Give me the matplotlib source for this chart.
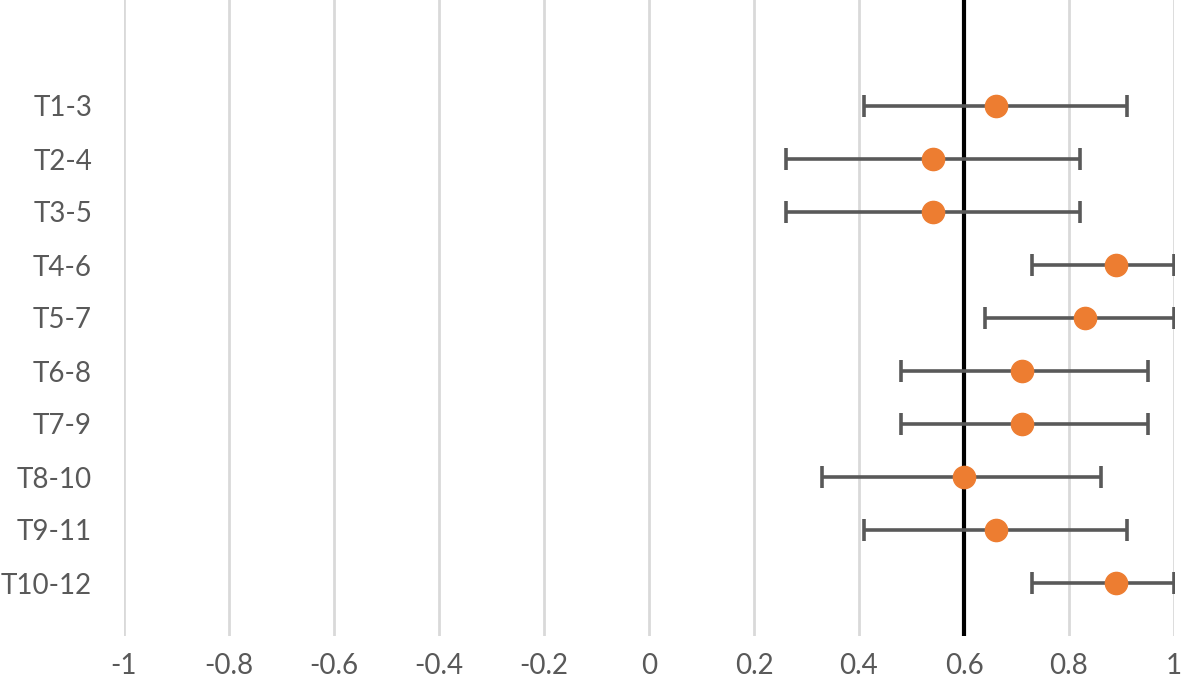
import matplotlib.pyplot as plt

# data
labels = ['T1-3', 'T2-4', 'T3-5', 'T4-6', 'T5-7', 'T6-8', 'T7-9', 'T8-10', 'T9-11', 'T10-12']
est = [0.66, 0.54, 0.54, 0.89, 0.83, 0.71, 0.71, 0.60, 0.66, 0.89]
low = [0.41, 0.26, 0.26, 0.73, 0.64, 0.48, 0.48, 0.33, 0.41, 0.73]
high = [0.91, 0.82, 0.82, 1.00, 1.00, 0.95, 0.95, 0.86, 0.91, 1.00]
ref_line = 0.6
xticks = [-1, -0.8, -0.6, -0.4, -0.2, 0, 0.2, 0.4, 0.6, 0.8, 1]

plt.rcParams['font.family'] = ['Lato', 'DejaVu Sans']

fig = plt.figure(figsize=(11.81, 6.91), dpi=100)
ax = fig.add_axes([124 / 1181, 55 / 691, 1050 / 1181, 636 / 691])

n = len(labels)
ypos = [n - i for i in range(n)]  # T1-3 on top
xerr = [[e - l for e, l in zip(est, low)], [h - e for e, h in zip(est, high)]]

for t in xticks:
    ax.axvline(t, color='#d9d9d9', lw=2, zorder=0)
ax.axvline(ref_line, color='black', lw=3, zorder=1)

ax.errorbar(est, ypos, xerr=xerr, fmt='o', color='#ED7D31', ms=16,
            ecolor='#595959', elinewidth=2.6, capsize=8, capthick=2.6, zorder=3)

ax.set_xlim(-1, 1)
ax.set_ylim(0, 12)
ax.set_xticks(xticks)
ax.set_xticklabels([f'{t:g}' for t in xticks])
ax.set_yticks(ypos)
ax.set_yticklabels(labels)
ax.tick_params(axis='both', length=0, labelsize=20, labelcolor='#595959')
ax.tick_params(axis='x', pad=12)
ax.tick_params(axis='y', pad=23)
for s in ax.spines.values():
    s.set_visible(False)

fig.savefig('out.png', dpi=100)
